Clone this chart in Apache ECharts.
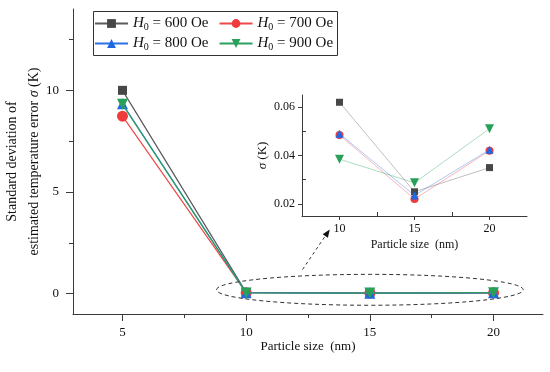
<!DOCTYPE html>
<html><head><meta charset="utf-8">
<script src="https://cdn.jsdelivr.net/npm/echarts@6/dist/echarts.min.js"></script>
<style>html,body{margin:0;padding:0;background:#fff}#c{width:550px;height:372px}</style>
</head><body><div id="c"></div>
<script>
// ---- data ----
const sizes = [5, 10, 15, 20];
const fields = [600, 700, 800, 900];
const sigma600 = [10.0, 0.062, 0.025, 0.035];
const sigma700 = [8.73, 0.0485, 0.022, 0.042];
const sigma800 = [9.34, 0.049, 0.0235, 0.0424];
const sigma900 = [9.31, 0.0385, 0.0287, 0.0511];
const mainXTicks = [5, 10, 15, 20];
const mainXMinor = [7.5, 12.5, 17.5];
const mainYTicks = [0, 5, 10];
const mainYMinor = [2.5, 7.5, 12.5];
const insetXTicks = [10, 15, 20];
const insetXMinor = [12.5, 17.5];
const insetYTicks = [0.02, 0.04, 0.06];
const insetYMinor = [0.03, 0.05];

const FONT = 'Liberation Serif';
const colors = ['#474747', '#ef3b3b', '#1f68e3', '#27a05a'];
const lineColorsMain = ['#5a5a5a', '#f04848', '#2a72e6', '#2aa060'];
const lineColorsInset = ['rgba(90,90,90,0.38)', 'rgba(240,60,60,0.38)', 'rgba(40,110,230,0.38)', 'rgba(40,160,90,0.38)'];
const symbols = ['rect', 'circle', 'triangle', 'triangle'];
const rotates = [0, 0, 0, 180];
const mainSizes = [9, 11, 11, 11];
const insetSizes = [7, 8, 8, 9];
const allSigma = [sigma600, sigma700, sigma800, sigma900];
const names = fields.map(f => 'H0 = ' + f + ' Oe');

const axisLineStyle = {color: '#3a3a3a', width: 1};
function majorAxis(o) {
  return Object.assign({
    type: 'value', splitLine: {show: false}, nameMoveOverlap: false,
    axisLine: {show: true, onZero: false, lineStyle: axisLineStyle},
    axisLabel: {color: '#111', fontFamily: FONT},
    nameTextStyle: {color: '#111', fontFamily: FONT}
  }, o);
}
function minorAxis(o) {
  return Object.assign({
    type: 'value', splitLine: {show: false},
    axisLine: {show: false, onZero: false}, axisLabel: {show: false}
  }, o);
}

const series = [];
allSigma.forEach((arr, i) => {
  series.push({
    name: names[i], type: 'line', xAxisIndex: 0, yAxisIndex: 0,
    data: sizes.map((s, k) => [s, arr[k]]),
    symbol: symbols[i], symbolRotate: rotates[i], symbolSize: mainSizes[i],
    itemStyle: {color: colors[i]},
    lineStyle: {color: lineColorsMain[i], width: 1.2},
    z: 2 + i
  });
});
allSigma.forEach((arr, i) => {
  series.push({
    name: 'inset ' + names[i], type: 'line', xAxisIndex: 2, yAxisIndex: 2,
    data: sizes.slice(1).map((s, k) => [s, arr[k + 1]]),
    symbol: symbols[i], symbolRotate: rotates[i], symbolSize: insetSizes[i],
    itemStyle: {color: colors[i]},
    lineStyle: {color: lineColorsInset[i], width: 1},
    z: 2 + i
  });
});

const legendText = {
  fontFamily: FONT, fontSize: 15, color: '#111',
  rich: {
    i: {fontFamily: FONT, fontSize: 15, fontStyle: 'italic', color: '#111'},
    s: {fontFamily: FONT, fontSize: 10, color: '#111', verticalAlign: 'bottom', padding: [7, 0, 0, 0]}
  }
};
const legendFmt = n => '{i|H}{s|0} = ' + n.replace('H0 = ', '');

const option = {
  animation: false,
  backgroundColor: '#fff',
  grid: [
    {left: 73, right: 7, top: 9, bottom: 58, outerBoundsMode: 'none', containLabel: false},
    {left: 302, right: 23, top: 95, bottom: 156, outerBoundsMode: 'none', containLabel: false}
  ],
  legend: [
    {data: names.slice(0, 2), left: 94, top: 16, padding: 0, itemGap: 10, itemWidth: 33, itemHeight: 11,
     textStyle: legendText, formatter: legendFmt},
    {data: names.slice(2, 4), left: 94, top: 36, padding: 0, itemGap: 10, itemWidth: 33, itemHeight: 11,
     textStyle: legendText, formatter: legendFmt}
  ],
  xAxis: [
    majorAxis({gridIndex: 0, min: 3, max: 22, position: 'bottom',
      axisTick: {show: true, length: 7, lineStyle: axisLineStyle, customValues: mainXTicks},
      axisLabel: {color: '#111', fontFamily: FONT, fontSize: 13, margin: 12, customValues: mainXTicks},
      name: 'Particle size  (nm)', nameLocation: 'middle', nameGap: 26,
      nameTextStyle: {color: '#111', fontFamily: FONT, fontSize: 13}}),
    minorAxis({gridIndex: 0, min: 3, max: 22, position: 'bottom',
      axisTick: {show: true, length: 4, lineStyle: axisLineStyle, customValues: mainXMinor}}),
    majorAxis({gridIndex: 1, min: 7.5, max: 22.5, position: 'bottom',
      axisTick: {show: true, length: 4, lineStyle: axisLineStyle, customValues: insetXTicks},
      axisLabel: {color: '#111', fontFamily: FONT, fontSize: 12, margin: 7, customValues: insetXTicks},
      name: 'Particle size  (nm)', nameLocation: 'middle', nameGap: 23,
      nameTextStyle: {color: '#111', fontFamily: FONT, fontSize: 12}}),
    minorAxis({gridIndex: 1, min: 7.5, max: 22.5, position: 'bottom',
      axisTick: {show: true, inside: true, length: 4, lineStyle: axisLineStyle, customValues: insetXMinor}})
  ],
  yAxis: [
    majorAxis({gridIndex: 0, min: -1, max: 14, position: 'left',
      axisTick: {show: true, length: 7, lineStyle: axisLineStyle, customValues: mainYTicks},
      axisLabel: {color: '#111', fontFamily: FONT, fontSize: 13, margin: 14, customValues: mainYTicks},
      name: 'Standard deviation of\nestimated temperature error {i|σ} (K)',
      nameLocation: 'middle', nameGap: 28,
      nameTextStyle: {color: '#111', fontFamily: FONT, fontSize: 14, lineHeight: 22,
        rich: {i: {fontFamily: FONT, fontSize: 14, fontStyle: 'italic', lineHeight: 22, color: '#111'}}}}),
    minorAxis({gridIndex: 0, min: -1, max: 14, position: 'left',
      axisTick: {show: true, length: 4, lineStyle: axisLineStyle, customValues: mainYMinor}}),
    majorAxis({gridIndex: 1, min: 0.015, max: 0.065, position: 'left',
      axisTick: {show: true, length: 4, lineStyle: axisLineStyle, customValues: insetYTicks},
      axisLabel: {color: '#111', fontFamily: FONT, fontSize: 12, margin: 7, customValues: insetYTicks,
        formatter: v => v.toFixed(2)},
      name: '{i|σ} (K)', nameLocation: 'middle', nameGap: 33,
      nameTextStyle: {color: '#111', fontFamily: FONT, fontSize: 13,
        rich: {i: {fontFamily: FONT, fontSize: 13, fontStyle: 'italic', color: '#111'}}}}),
    minorAxis({gridIndex: 1, min: 0.015, max: 0.065, position: 'left',
      axisTick: {show: true, inside: true, length: 4, lineStyle: axisLineStyle, customValues: insetYMinor}})
  ],
  series: series
};

const chart = echarts.init(document.getElementById('c'), null, {renderer: 'canvas'});
chart.setOption(option);

// annotations: legend frame, dashed ellipse and arrow (positions derived from main axes)
const P = (x, y) => chart.convertToPixel({gridIndex: 0}, [x, y]);
const c = P(15, 0.19);
const ex = P(8.8, 0.19), ey = P(15, 0.95);
const tail = P(12.28, 1.19), tip = P(13.38, 3.16);
const dx = tip[0] - tail[0], dy = tip[1] - tail[1];
const L = Math.sqrt(dx * dx + dy * dy), ux = dx / L, uy = dy / L;
const hl = 8, hw = 3.2;
const base = [tip[0] - ux * hl, tip[1] - uy * hl];
chart.setOption({
  graphic: [
    {type: 'rect', shape: {x: 93.5, y: 11.5, width: 244, height: 44}, style: {fill: 'none', stroke: '#333', lineWidth: 1}, z: 1},
    {type: 'ellipse', shape: {cx: c[0], cy: c[1], rx: c[0] - ex[0], ry: c[1] - ey[1]},
      style: {fill: 'none', stroke: '#333', lineWidth: 1, lineDash: [4, 3]}, z: 10},
    {type: 'line', shape: {x1: tail[0], y1: tail[1], x2: base[0], y2: base[1]},
      style: {stroke: '#333', lineWidth: 1, lineDash: [3, 3]}, z: 10},
    {type: 'polygon', shape: {points: [tip, [base[0] - uy * hw, base[1] + ux * hw], [base[0] + uy * hw, base[1] - ux * hw]]},
      style: {fill: '#111'}, z: 10}
  ]
});
</script>
</body></html>
